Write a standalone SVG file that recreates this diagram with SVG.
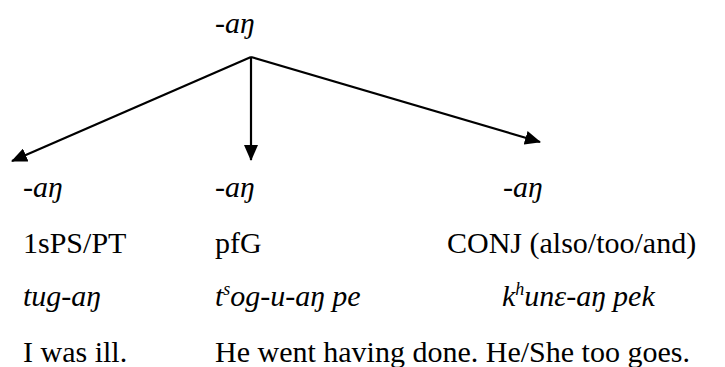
<svg xmlns="http://www.w3.org/2000/svg" width="725" height="367" viewBox="0 0 725 367" font-family="'Liberation Serif', 'Times New Roman', Times, 'DejaVu Serif', serif">
<style>
text{font-family:'Liberation Serif','Times New Roman',Times,'DejaVu Serif',serif;font-size:30px;fill:#000}
.it{font-style:italic}
.sup{font-size:18px}
.conn line{stroke:#000;stroke-width:2.2;fill:none}
</style>
<defs>
<marker id="ah" markerUnits="userSpaceOnUse" markerWidth="16" markerHeight="14" refX="15" refY="7" orient="auto">
<path d="M0,0 L16,7 L0,14 Z" fill="#000"/>
</marker>
</defs>
<rect width="725" height="367" fill="#fff"/>
<g id="root"><text class="it" x="215" y="33">-aŋ</text></g>
<g class="conn" id="connectors">
<line x1="251" y1="57" x2="12" y2="161" marker-end="url(#ah)"/>
<line x1="251" y1="57" x2="251" y2="160" marker-end="url(#ah)"/>
<line x1="251" y1="57" x2="540" y2="142" marker-end="url(#ah)"/>
</g>
<g id="node-left">
<text class="it" x="23" y="197">-aŋ</text>
<text x="23" y="253">1sPS/PT</text>
<text class="it" x="23" y="306">tug-aŋ</text>
<text x="23" y="362">I was ill.</text>
</g>
<g id="node-middle">
<text class="it" x="215" y="197">-aŋ</text>
<text x="215" y="253">pfG</text>
<text class="it" x="215" y="306">t<tspan class="sup" dy="-11">s</tspan><tspan dy="11">og-u-aŋ pe</tspan></text>
<text x="215" y="362">He went having done. He/She too goes.</text>
</g>
<g id="node-right">
<text class="it" x="503" y="197">-aŋ</text>
<text x="447" y="253">CONJ (also/too/and)</text>
<text class="it" x="502" y="306">k<tspan class="sup" dy="-11">h</tspan><tspan dy="11">unε-aŋ pek</tspan></text>
</g>
</svg>
